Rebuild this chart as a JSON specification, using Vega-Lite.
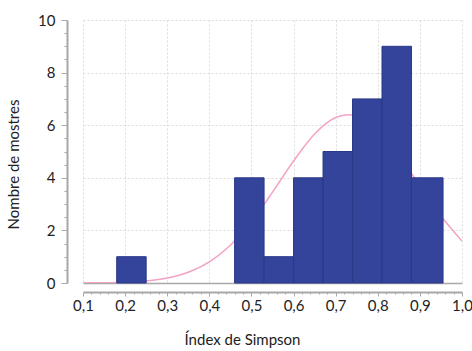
{
  "$schema": "https://vega.github.io/schema/vega-lite/v6.json",
  "autosize": "none",
  "width": 379,
  "height": 263,
  "padding": {"left": 83, "top": 20, "right": 10, "bottom": 68},
  "background": "white",
  "config": {
    "view": {"stroke": null},
    "font": "Lato",
    "axis": {
      "labelFont": "Lato",
      "titleFont": "Lato",
      "labelFontSize": 15,
      "titleFontSize": 15,
      "labelColor": "#222222",
      "titleColor": "#222222",
      "titleFontWeight": "normal",
      "domainColor": "#a8a8a8",
      "domainWidth": 2,
      "tickColor": "#a8a8a8",
      "gridColor": "#dcdcdc",
      "gridDash": [2, 2]
    }
  },
  "datasets": {
    "bins": [
      {"start": 0.18, "end": 0.25, "count": 1},
      {"start": 0.46, "end": 0.53, "count": 4},
      {"start": 0.53, "end": 0.60, "count": 1},
      {"start": 0.60, "end": 0.67, "count": 4},
      {"start": 0.67, "end": 0.74, "count": 5},
      {"start": 0.74, "end": 0.81, "count": 7},
      {"start": 0.81, "end": 0.88, "count": 9},
      {"start": 0.88, "end": 0.955, "count": 4}
    ],
    "curve": [
      {"x": 0.10, "y": 0.003},
      {"x": 0.15, "y": 0.011},
      {"x": 0.20, "y": 0.030},
      {"x": 0.25, "y": 0.079},
      {"x": 0.30, "y": 0.189},
      {"x": 0.35, "y": 0.409},
      {"x": 0.40, "y": 0.804},
      {"x": 0.45, "y": 1.437},
      {"x": 0.50, "y": 2.337},
      {"x": 0.55, "y": 3.453},
      {"x": 0.60, "y": 4.639},
      {"x": 0.65, "y": 5.665},
      {"x": 0.70, "y": 6.291},
      {"x": 0.73, "y": 6.400},
      {"x": 0.75, "y": 6.351},
      {"x": 0.80, "y": 5.830},
      {"x": 0.85, "y": 4.864},
      {"x": 0.90, "y": 3.691},
      {"x": 0.95, "y": 2.545},
      {"x": 1.00, "y": 1.596}
    ]
  },
  "resolve": {"axis": {"x": "independent", "y": "independent"}},
  "layer": [
    {
      "data": {"name": "curve"},
      "mark": {"type": "line", "color": "#f4a3c6", "strokeWidth": 1.5, "interpolate": "monotone", "clip": true},
      "encoding": {
        "x": {
          "field": "x", "type": "quantitative",
          "scale": {"domain": [0.1, 1.0], "nice": false, "zero": false},
          "axis": {
            "orient": "bottom",
            "title": "Índex de Simpson",
            "titleY": 40,
            "titleX": 159,
            "values": [0.1, 0.2, 0.3, 0.4, 0.5, 0.6, 0.7, 0.8, 0.9, 1.0],
            "labelExpr": "replace(format(datum.value, '.1f'), '.', ',')",
            "offset": 9,
            "tickSize": 4,
            "labelPadding": 2,
            "grid": true,
            "labelFlush": false
          }
        },
        "y": {
          "field": "y", "type": "quantitative",
          "scale": {"domain": [0, 10], "nice": false},
          "axis": {
            "orient": "left",
            "title": "Nombre de mostres",
            "titlePadding": 16,
            "titleY": 144,
            "values": [0, 2, 4, 6, 8, 10],
            "offset": 16,
            "tickSize": 6,
            "labelPadding": 6,
            "grid": true,
            "gridColor": {"condition": {"test": "datum.value === 0", "value": "#a8a8a8"}, "value": "#dcdcdc"},
            "gridDash": {"condition": {"test": "datum.value === 0", "value": []}, "value": [2, 2]},
            "gridWidth": {"condition": {"test": "datum.value === 0", "value": 1.5}, "value": 1}
          }
        }
      }
    },
    {
      "data": {"name": "bins"},
      "mark": {"type": "bar", "color": "#34449b", "stroke": "#2a3888", "strokeWidth": 1},
      "encoding": {
        "x": {
          "field": "start", "type": "quantitative",
          "axis": {
            "orient": "bottom",
            "title": null,
            "labels": false,
            "domain": false,
            "grid": false,
            "offset": 9,
            "tickSize": 2,
            "values": [0.12, 0.14, 0.16, 0.18, 0.22, 0.24, 0.26, 0.28, 0.32, 0.34, 0.36, 0.38, 0.42, 0.44, 0.46, 0.48, 0.52, 0.54, 0.56, 0.58, 0.62, 0.64, 0.66, 0.68, 0.72, 0.74, 0.76, 0.78, 0.82, 0.84, 0.86, 0.88, 0.92, 0.94, 0.96, 0.98]
          }
        },
        "x2": {"field": "end"},
        "y": {
          "field": "count", "type": "quantitative",
          "axis": {
            "orient": "left",
            "title": null,
            "labels": false,
            "domain": false,
            "grid": false,
            "offset": 16,
            "tickSize": 3,
            "values": [0.5, 1, 1.5, 2.5, 3, 3.5, 4.5, 5, 5.5, 6.5, 7, 7.5, 8.5, 9, 9.5]
          }
        },
        "y2": {"datum": 0}
      }
    }
  ]
}
